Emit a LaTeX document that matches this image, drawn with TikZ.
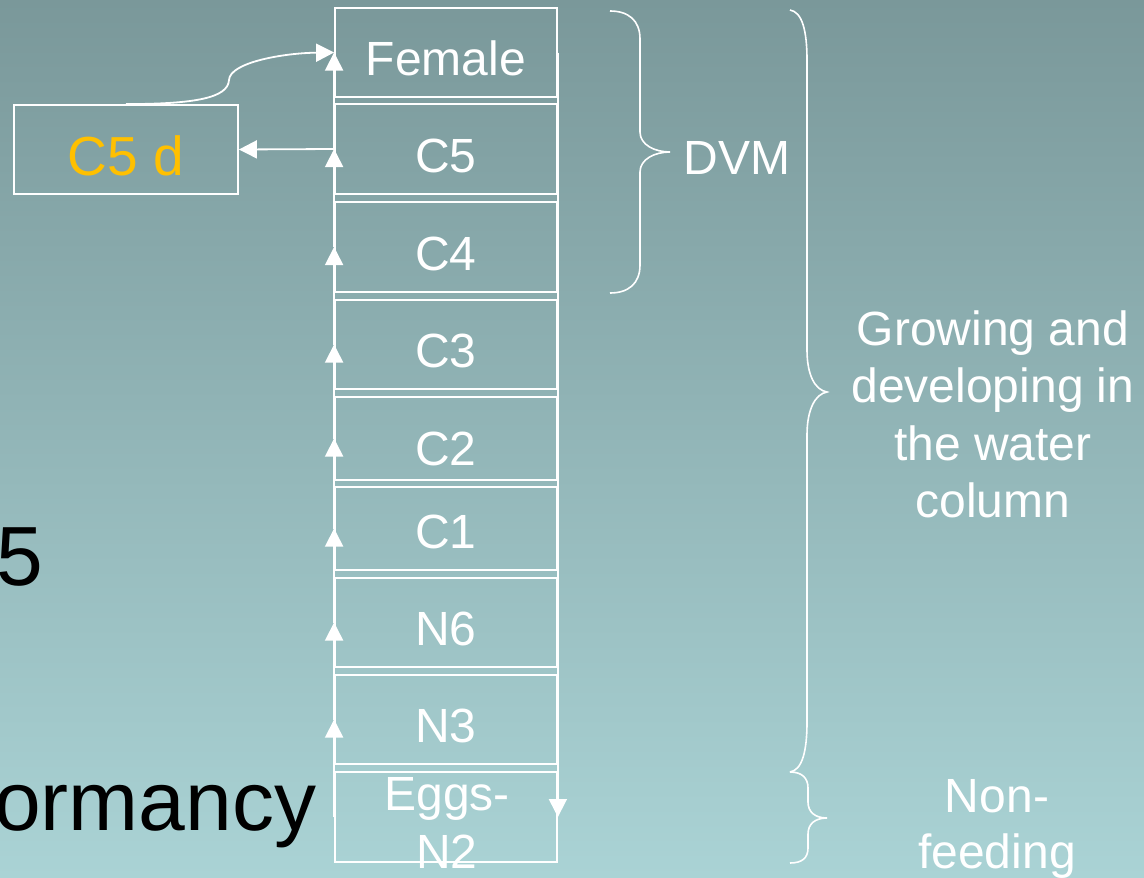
\documentclass[tikz,border=0pt]{standalone}
\usepackage{fontspec}
\setmainfont{Liberation Sans}
\usetikzlibrary{arrows.meta}
\definecolor{bgtop}{HTML}{7A989A}
\definecolor{bgbot}{HTML}{AAD3D5}
\definecolor{amber}{HTML}{FFC000}
\begin{document}
\begin{tikzpicture}[x=1pt,y=-1pt,
  stage/.style={draw=white,line width=1.8pt,minimum width=222pt,inner sep=0pt,text=white,
    font=\fontsize{48}{58}\selectfont,text height=46pt,text depth=0pt},
  lbl/.style={text=white,inner sep=0pt},
  big/.style={text=black,inner sep=0pt,anchor=base west,font=\fontsize{84}{100}\selectfont},
  arr/.style={white,line width=1.8pt,-{Triangle[width=18pt,length=18pt]}},
  bracestroke/.style={white,line width=1.6pt}]
\useasboundingbox (0,0) rectangle (1144,878);
\shade[top color=bgtop,bottom color=bgbot] (0,0) rectangle (1144,878);
\clip (0,0) rectangle (1144,878);

% stages
\node[stage,minimum height=89pt] (female) at (446,52.5) {Female};
\node[stage,minimum height=90pt] (c5) at (446,149) {C5};
\node[stage,minimum height=90pt] (c4) at (446,247) {C4};
\node[stage,minimum height=89pt] (c3) at (446,344.5) {C3};
\node[stage,minimum height=83pt,text height=53pt] (c2) at (446,438.5) {C2};
\node[stage,minimum height=83pt,text height=39pt] (c1) at (446,528.5) {C1};
\node[stage,minimum height=89pt] (n6) at (446,622.5) {N6};
\node[stage,minimum height=89pt] (n3) at (446,719.5) {N3};
\node[stage,minimum height=90pt] (eggs) at (446,817) {};
\node[lbl,anchor=base,font=\fontsize{48}{58}\selectfont] (eggslbl) at (447,810)
  {\begin{tabular}[t]{@{}c@{}}Eggs-\\N2\end{tabular}};

% diapause box
\node[draw=white,line width=1.8pt,minimum width=224pt,minimum height=89pt,inner sep=0pt,
  text=amber,font=\fontsize{55}{66}\selectfont,text height=52pt,text depth=0pt] (c5d) at (126,149.5) {C5 d};

% development arrows
\draw[arr] (eggs.west) -- (n3.west);
\draw[arr] (n3.west) -- (n6.west);
\draw[arr] (n6.west) -- (c1.west);
\draw[arr] (c1.west) -- (c2.west);
\draw[arr] (c2.west) -- (c3.west);
\draw[arr] (c3.west) -- (c4.west);
\draw[arr] (c4.west) -- (c5.west);
\draw[arr] (c5.west) -- (female.west);
\draw[arr] (female.east) -- (eggs.east);
\draw[arr] (c5.west) -- (c5d.east);
\draw[arr] (c5d.north) .. controls (195,104) and (228,98) .. (229,80)
  .. controls (230,62) and (285,53) .. (female.west);

% braces
\draw[bracestroke] (610,11) .. controls (628,11) and (640,20) .. (640,39) -- (640,132)
  .. controls (640,145) and (655,152) .. (670,152)
  .. controls (655,152) and (640,159) .. (640,172) -- (640,265)
  .. controls (640,284) and (628,293) .. (610,293);
\draw[bracestroke] (790,10) .. controls (802,12) and (807,30) .. (807,60) -- (807,350)
  .. controls (807,375) and (815,390) .. (827,392)
  .. controls (815,394) and (807,410) .. (807,435) -- (807,722)
  .. controls (807,752) and (802,770) .. (790,772);
\draw[bracestroke] (790,772) .. controls (802,772) and (808,778) .. (808,788) -- (808,802)
  .. controls (808,812) and (815,818) .. (827,818)
  .. controls (815,818) and (808,824) .. (808,834) -- (808,848)
  .. controls (808,858) and (802,863) .. (790,863);

% brace labels
\node[lbl,anchor=base,font=\fontsize{48}{58}\selectfont] (dvm) at (737,174) {DVM};
\node[lbl,anchor=base,font=\fontsize{48}{57.5}\selectfont] (grow) at (993,345)
  {\begin{tabular}[t]{@{}c@{}}Growing and\\developing in\\the water\\column\end{tabular}};
\node[lbl,anchor=base,font=\fontsize{48}{56}\selectfont] (nonf) at (997,812)
  {\begin{tabular}[t]{@{}c@{}}Non-\\feeding\end{tabular}};

% clipped slide text on the left
\node[big] (five) at (-4,585) {5};
\node[big] (dorm) at (-6,830) {ormancy};
\end{tikzpicture}
\end{document}
